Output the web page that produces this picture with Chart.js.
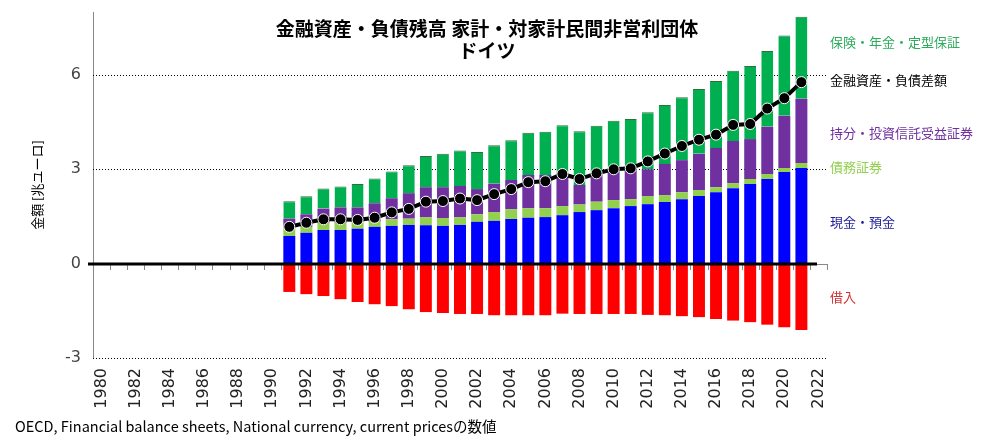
<!DOCTYPE html>
<html>
<head>
<meta charset="utf-8">
<script src="https://cdn.jsdelivr.net/npm/chart.js@4/dist/chart.umd.min.js"></script>
<style>
  html, body { margin: 0; padding: 0; background: #fff; }
  #wrap { width: 982px; height: 447px; }
</style>
</head>
<body>
<div id="wrap"><canvas id="chart" width="982" height="447"></canvas></div>
<script>
// 年（1980〜2022）
const years = [];
for (let y = 1980; y <= 2022; y++) years.push(String(y));

// 1991〜2021 の値 [兆ユーロ]
const cash = [0.88, 0.98, 1.07, 1.07, 1.11, 1.17, 1.20, 1.23, 1.22, 1.20, 1.23, 1.33, 1.36, 1.42, 1.46, 1.48,
  1.54, 1.64, 1.70, 1.76, 1.83, 1.89, 1.96, 2.05, 2.15, 2.27, 2.40, 2.53, 2.69, 2.91, 3.04];
const debtSec = [0.24, 0.19, 0.23, 0.23, 0.22, 0.17, 0.21, 0.20, 0.25, 0.25, 0.24, 0.24, 0.28, 0.31, 0.30, 0.28,
  0.29, 0.24, 0.27, 0.26, 0.22, 0.26, 0.22, 0.22, 0.19, 0.16, 0.16, 0.16, 0.16, 0.13, 0.16];
const equity = [0.31, 0.40, 0.45, 0.49, 0.46, 0.58, 0.67, 0.81, 0.96, 0.98, 1.00, 0.80, 0.90, 0.93, 1.06, 1.06,
  1.05, 0.62, 0.88, 0.92, 0.95, 0.85, 0.99, 1.02, 1.15, 1.25, 1.34, 1.27, 1.50, 1.66, 2.04];
const insurance = [0.55, 0.57, 0.64, 0.66, 0.74, 0.79, 0.85, 0.89, 0.99, 1.06, 1.13, 1.18, 1.22, 1.26, 1.34, 1.37,
  1.52, 1.71, 1.53, 1.60, 1.60, 1.81, 1.87, 2.00, 2.06, 2.13, 2.23, 2.32, 2.41, 2.55, 2.61];
const loans = [-0.90, -0.97, -1.03, -1.13, -1.22, -1.29, -1.35, -1.45, -1.54, -1.57, -1.60, -1.60, -1.64, -1.64, -1.64, -1.64,
  -1.59, -1.60, -1.60, -1.60, -1.60, -1.63, -1.64, -1.67, -1.70, -1.76, -1.81, -1.86, -1.94, -2.02, -2.11];
const netWorth = [1.17, 1.30, 1.41, 1.41, 1.39, 1.46, 1.63, 1.74, 1.97, 1.99, 2.07, 2.02, 2.21, 2.37, 2.59, 2.62,
  2.85, 2.69, 2.87, 3.00, 3.03, 3.25, 3.50, 3.74, 3.94, 4.10, 4.41, 4.44, 4.93, 5.26, 5.77];

// 目盛り
const yTicks = [-3, 0, 3, 6];

const firstYear = 1991;
function pad(arr) {
  return years.map(y => {
    const i = Number(y) - firstYear;
    return (i >= 0 && i < arr.length) ? arr[i] : null;
  });
}

const font = '"Noto Sans CJK JP", "Noto Sans", sans-serif';

// 右側のラベル（値の位置）
const sideLabels = [
  { text: '保険・年金・定型保証', color: '#2eab5c', at: 7.06 },
  { text: '金融資産・負債差額', color: '#000000', at: 5.85 },
  { text: '持分・投資信託受益証券', color: '#7030a0', at: 4.16 },
  { text: '債務証券', color: '#92d050', at: 3.07 },
  { text: '現金・預金', color: '#1f1f9a', at: 1.32 },
  { text: '借入', color: '#d03030', at: -1.07 }
];

const decorations = {
  id: 'decorations',
  beforeDatasetsDraw(chart) {
    const { ctx, chartArea: a, scales: { y } } = chart;
    ctx.save();
    ctx.strokeStyle = '#000';
    ctx.lineWidth = 1;
    ctx.setLineDash([1, 2]);
    yTicks.filter(v => v !== 0).forEach(v => {
      const py = Math.round(y.getPixelForValue(v)) + 0.5;
      ctx.beginPath();
      ctx.moveTo(a.left, py);
      ctx.lineTo(a.right, py);
      ctx.stroke();
    });
    ctx.restore();
  },
  afterDatasetsDraw(chart) {
    const { ctx, chartArea: a, scales: { y } } = chart;
    const y0 = Math.round(y.getPixelForValue(0));
    ctx.save();
    // 目盛り
    ctx.strokeStyle = '#888';
    ctx.lineWidth = 1;
    const n = years.length;
    for (let i = 0; i <= n; i++) {
      const px = Math.round(a.left + i * (a.right - a.left) / n) + 0.5;
      ctx.beginPath();
      ctx.moveTo(px, y0);
      ctx.lineTo(px, y0 + 6);
      ctx.stroke();
    }
    ctx.beginPath();
    ctx.moveTo(a.right - 12, y0 + 0.5);
    ctx.lineTo(a.right, y0 + 0.5);
    ctx.stroke();
    // ゼロ線
    ctx.strokeStyle = '#000';
    ctx.lineWidth = 3;
    ctx.beginPath();
    ctx.moveTo(a.left - 5, y0);
    ctx.lineTo(a.right - 10, y0);
    ctx.stroke();
    ctx.restore();
  },
  afterDraw(chart) {
    const { ctx, chartArea: a, scales: { y } } = chart;
    ctx.save();
    // y 軸ラベル
    ctx.fillStyle = '#444';
    ctx.textAlign = 'right';
    ctx.textBaseline = 'middle';
    ctx.font = '16px "DejaVu Sans"';
    yTicks.forEach(v => ctx.fillText(String(v), a.left - 12, y.getPixelForValue(v)));
    // タイトル
    ctx.fillStyle = '#000';
    ctx.textAlign = 'center';
    ctx.font = 'bold 19px ' + font;
    ctx.fillText('金融資産・負債残高 家計・対家計民間非営利団体', 487, 29);
    ctx.fillText('ドイツ', 487, 51);
    // 右ラベル
    ctx.textAlign = 'left';
    ctx.font = '13px ' + font;
    sideLabels.forEach(l => {
      ctx.fillStyle = l.color;
      ctx.fillText(l.text, a.right + 3, y.getPixelForValue(l.at));
    });
    // 軸タイトル
    ctx.fillStyle = '#000';
    ctx.save();
    ctx.translate(37, (a.top + a.bottom) / 2);
    ctx.rotate(-Math.PI / 2);
    ctx.textAlign = 'center';
    ctx.font = '13px ' + font;
    ctx.fillText('金額 [兆ユーロ]', 0, 0);
    ctx.restore();
    // 出典
    ctx.textAlign = 'left';
    ctx.font = '14.5px ' + font;
    ctx.fillText('OECD, Financial balance sheets, National currency, current pricesの数値', 15, 426);
    ctx.restore();
  }
};

const barOpts = { type: 'bar', stack: 'bs', barPercentage: 0.7, categoryPercentage: 1, order: 1 };

new Chart(document.getElementById('chart'), {
  data: {
    labels: years,
    datasets: [
      { ...barOpts, label: '現金・預金', data: pad(cash), backgroundColor: '#0000ff' },
      { ...barOpts, label: '債務証券', data: pad(debtSec), backgroundColor: '#92d050' },
      { ...barOpts, label: '持分・投資信託受益証券', data: pad(equity), backgroundColor: '#7030a0' },
      { ...barOpts, label: '保険・年金・定型保証', data: pad(insurance), backgroundColor: '#00b050',
        borderColor: '#2f6f3a', borderWidth: { top: 1, left: 0, right: 0, bottom: 0 }, borderSkipped: false },
      { ...barOpts, label: '借入', data: pad(loans), backgroundColor: '#ff0000' },
      {
        type: 'line', label: '金融資産・負債差額', stack: 'net', order: 0,
        data: pad(netWorth),
        borderColor: '#000', borderWidth: 4,
        pointRadius: 5.5, pointBackgroundColor: '#000', pointBorderColor: '#fff', pointBorderWidth: 1,
        tension: 0
      }
    ]
  },
  options: {
    responsive: false,
    animation: false,
    layout: { padding: { top: 12, right: 155, left: 0, bottom: 0 } },
    plugins: { legend: { display: false }, tooltip: { enabled: false } },
    scales: {
      x: {
        stacked: true,
        grid: { display: false },
        border: { display: false },
        ticks: {
          autoSkip: false, minRotation: 90, maxRotation: 90, padding: 2,
          color: '#222', font: { size: 16, family: 'DejaVu Sans' },
          callback: (v, i) => (Number(years[i]) % 2 === 0 ? years[i] : '')
        },
        afterFit: s => { s.height = 89; }
      },
      y: {
        stacked: true,
        min: -3, max: 8,
        grid: { display: false },
        border: { display: true, color: '#888', width: 1 },
        ticks: { display: false },
        afterFit: s => { s.width = 93; }
      }
    }
  },
  plugins: [decorations]
});
</script>
</body>
</html>
